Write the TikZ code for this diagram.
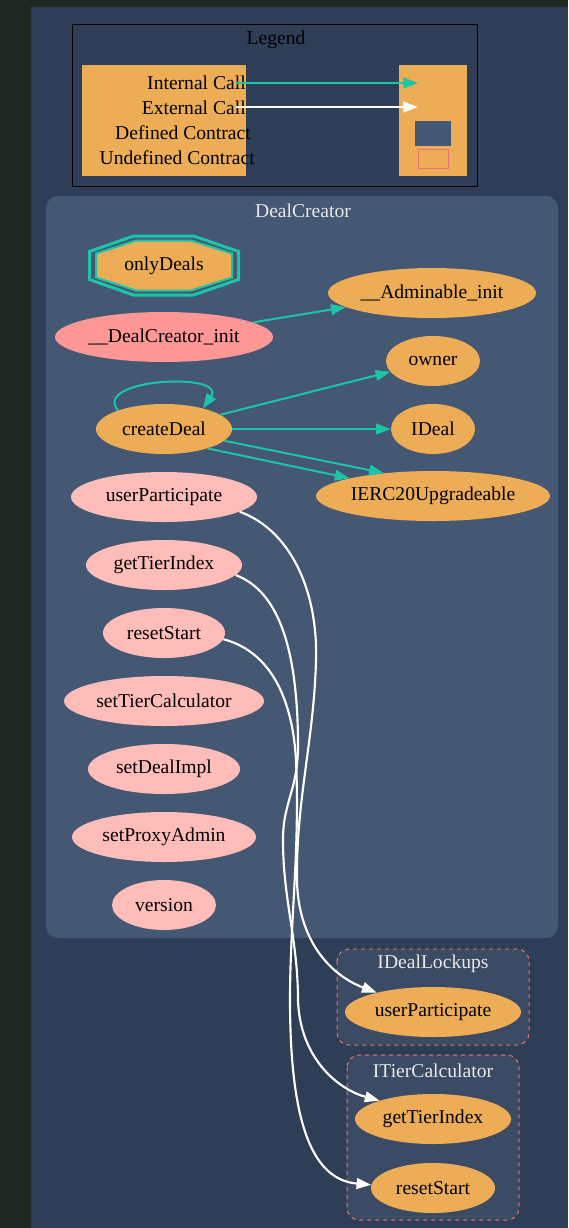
\documentclass[tikz,border=0pt]{standalone}
\usepackage{fontspec}
\setmainfont{Liberation Serif}
\usetikzlibrary{shapes.geometric}
\usetikzlibrary{arrows.meta}
\definecolor{pagebg}{HTML}{1F2820}
\definecolor{graphbg}{HTML}{2E3E56}
\definecolor{clusterbg}{HTML}{445773}
\definecolor{undefbg}{HTML}{3B4B63}
\definecolor{undefline}{HTML}{E8726D}
\definecolor{fnorange}{HTML}{EDAD56}
\definecolor{fnpink}{HTML}{FFBDB9}
\definecolor{fninit}{HTML}{FF9797}
\definecolor{callteal}{HTML}{1BC6A6}
\definecolor{titlegray}{HTML}{E8E8E8}
\tikzset{
    every node/.style={
        font=\fontsize{14.7pt}{17pt}\selectfont},
    fn/.style={
        ellipse,
        inner sep=0pt,
        minimum height=37.5pt,
        fill=fnorange},
    pub/.style={fn, fill=fnpink},
    init/.style={fn, fill=fninit},
    hw/.style={minimum width={1.5pt*#1}},
    title/.style={text=titlegray},
    keybox/.style={
        fill=fnorange,
        inner sep=0pt,
        minimum height=83.25pt},
    cluster/.style={
        fill=clusterbg,
        rounded corners=9pt},
    undef/.style={
        draw=undefline,
        dashed,
        line width=0.75pt,
        fill=undefbg,
        rounded corners=9pt},
    every edge/.style={
        draw,
        -{Triangle[length=11pt,width=8pt]},
        line width=1.5pt,
        callteal},
    ext/.style={
        draw=white,
        -{Triangle[length=11pt,width=8pt]},
        line width=1.6pt}}

\begin{document}
\begin{tikzpicture}[x=0.75pt,y=-0.75pt]
    % background
    \fill[pagebg] (0,0) rectangle (568,1228);
    \fill[graphbg] (31,7) rectangle (568,1228);

    % legend
    \draw[fill=graphbg, line width=0.75pt] (72,24) rectangle (477,186);
    \node (legend) at (276,40) {Legend};
    \node[keybox, minimum width=123pt] (keyL) at (164,120.5) {};
    \node[keybox, minimum width=51pt] (keyR) at (433,120.5) {};
    \node[anchor=east, inner sep=0pt] (kInt) at (246,83) {Internal Call};
    \node[anchor=east, inner sep=0pt] (kExt) at (246,108) {External Call};
    \node[anchor=east, inner sep=0pt] (kDef) at (251,133) {Defined Contract};
    \node[anchor=east, inner sep=0pt] (kUnd) at (255,158) {Undefined Contract};
    \fill[clusterbg] (415,121) rectangle (451,146);
    \draw[fill=fnorange, draw=undefline, line width=0.75pt] (418,149) rectangle (448,168);
    \coordinate (iIn) at (236,83);
    \coordinate (oIn) at (418,83);
    \coordinate (iEx) at (236,107);
    \coordinate (oEx) at (418,107);
    \draw (iIn) edge (oIn);
    \draw (iEx) edge[white] (oEx);

    % clusters
    \fill[cluster] (46,196) rectangle (558,938);
    \node[title] (dcTitle) at (303,211) {DealCreator};
    \filldraw[undef] (337,949) rectangle (529,1045);
    \node[title] (ilTitle) at (433,964) {IDealLockups};
    \filldraw[undef] (347,1055) rectangle (519,1220);
    \node[title] (tcTitle) at (433,1071) {ITierCalculator};

    % modifier
    \node (onlyDeals) at (164,265.5) {onlyDeals};
    \draw[callteal, line width=2.25pt] (onlyDeals.center)
        ++(-74.5,-14) -- ++(44,-15.5) -- ++(60,0) -- ++(45,15.5)
        -- ++(0,28) -- ++(-45,15.5) -- ++(-60,0) -- ++(-44,-15.5) -- cycle;
    \filldraw[fill=fnorange, draw=callteal, line width=1.5pt] (onlyDeals.center)
        ++(-68,-12) -- ++(40,-13) -- ++(55,0) -- ++(41,13)
        -- ++(0,24) -- ++(-41,13) -- ++(-55,0) -- ++(-40,-13) -- cycle;
    \node at (onlyDeals.center) {onlyDeals};

    % DealCreator functions
    \node[fn, hw=104] (adminInit) at (432,293) {\_\_Adminable\_init};
    \node[init, hw=109] (dcInit) at (164,337) {\_\_DealCreator\_init};
    \node[fn, hw=47] (owner) at (433,361) {owner};
    \node[fn, hw=68] (createDeal) at (164,429) {createDeal};
    \node[fn, hw=42] (iDeal) at (433,429) {IDeal};
    \node[fn, hw=117] (ierc) at (433,496) {IERC20Upgradeable};
    \node[pub, hw=93] (userPart) at (164,497) {userParticipate};
    \node[pub, hw=78] (getTier) at (164,565) {getTierIndex};
    \node[pub, hw=61] (resetStart) at (164,633) {resetStart};
    \node[pub, hw=100] (setTierCalc) at (164,701) {setTierCalculator};
    \node[pub, hw=76] (setDealImpl) at (164,769) {setDealImpl};
    \node[pub, hw=92] (setProxy) at (164,837) {setProxyAdmin};
    \node[pub, hw=52] (version) at (164,905) {version};

    % undefined contracts
    \node[fn, hw=88] (ilUser) at (433,1012) {userParticipate};
    \node[fn, hw=78] (tcGetTier) at (433,1119) {getTierIndex};
    \node[fn, hw=62] (tcReset) at (433,1188) {resetStart};

    % internal calls
    \draw (dcInit) edge (adminInit);
    \draw (createDeal) edge (owner);
    \draw (createDeal) edge (iDeal);
    \draw (createDeal.-11) edge (ierc.155);
    \draw (createDeal.-24) edge (ierc.168);
    \draw (createDeal.158) edge[to path={.. controls (92,378) and (228,372) .. (\tikztotarget)}] (createDeal.28);

    % external calls
    \draw[ext] (userPart.-11) .. controls (290,530) and (318,590) .. (316,660)
        .. controls (314,740) and (296,800) .. (297,880)
        .. controls (298,940) and (330,975) .. (ilUser.161);
    \draw[ext] (getTier.-8) .. controls (275,590) and (297,640) .. (298,740)
        .. controls (299,790) and (283,800) .. (283,840)
        .. controls (283,900) and (298,940) .. (298,1000)
        .. controls (300,1060) and (340,1090) .. (tcGetTier.161);
    \draw[ext] (resetStart.-6) .. controls (265,650) and (292,690) .. (296,760)
        .. controls (300,850) and (290,920) .. (290,1000)
        .. controls (290,1130) and (315,1180) .. (tcReset.177);
\end{tikzpicture}
\end{document}
